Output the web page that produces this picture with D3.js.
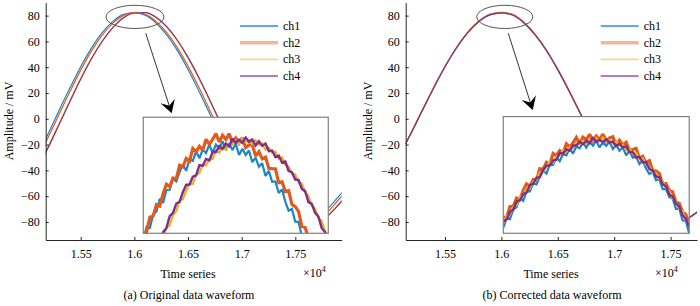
<!DOCTYPE html>
<html>
<head>
<meta charset="utf-8">
<script src="https://d3js.org/d3.v7.min.js"></script>
<style>
	body { margin: 0; background: #fff; }
	svg text { font-family: "Liberation Serif", "Times New Roman", serif; font-size: 12px; fill: #000; }
</style>
</head>
<body>
<div id="chart-area"></div>
<script>

// SVG Size
var width = 700,
	height = 306;

// channels
var channels = ["ch1", "ch2", "ch3", "ch4"];
var lineColors = ["#1a86c8", "#e05a1e", "#edb120", "#7e2f8e"];
var legendColors = ["#5aaee0", "#f2b49c", "#f5d68c", "#b67ac8"];
var legendWidths = [1.8, 3.5, 1.8, 1.8];

// axis ticks
var xTicks = [15500, 16000, 16500, 17000, 17500];
var xTickLabels = ["1.55", "1.6", "1.65", "1.7", "1.75"];
var yTicks = [-80, -60, -40, -20, 0, 20, 40, 60, 80];

// time samples of the full waveform
var sampleT = [15150, 15200, 15300, 15400, 15500, 15600, 15700, 15800, 15900, 16000,
	16100, 16200, 16300, 16400, 16500, 16600, 16700, 16800, 16900, 17000,
	17100, 17200, 17300, 17400, 17500, 17600, 17700, 17800, 17900, 17950];

// (a) original data, mV
var origCh1 = [-19.8, -11.0, 6.7, 24.0, 40.4, 54.8, 66.7, 75.5, 80.9, 82.0, 80.4, 74.5, 65.2, 53.0, 38.2, 21.7, 4.2, -13.5, -30.5, -46.2, -59.8, -70.5, -78.1, -82.0, -82.8, -81.0, -76.8, -70.0, -60.5, -55.8];
var origCh2 = [-22.7, -14.0, 3.7, 21.1, 37.7, 52.5, 64.8, 74.2, 80.2, 82.5, 81.0, 75.7, 67.0, 55.2, 40.8, 24.6, 7.2, -10.5, -27.7, -43.7, -57.7, -68.9, -77.0, -81.5, -83.0, -82.0, -78.5, -72.5, -63.0, -58.3];
var origCh3 = [-29.6, -21.0, -3.4, 14.2, 31.4, 47.0, 60.4, 71.1, 78.5, 82.2, 82.4, 78.5, 71.1, 60.5, 47.0, 31.4, 14.3, -3.5, -21.0, -37.7, -52.6, -65.0, -74.4, -80.4, -82.8, -82.8, -80.2, -75.0, -66.5, -62.0];
var origCh4 = [-30.4, -21.9, -4.3, 13.4, 30.6, 46.3, 59.9, 70.7, 78.3, 82.0, 82.3, 78.9, 71.7, 61.1, 47.8, 32.2, 15.2, -2.6, -20.2, -36.9, -52.0, -64.5, -74.1, -80.3, -82.8, -83.0, -80.5, -75.5, -67.0, -62.5];

// (b) corrected data, mV
var corrCh1 = [-19.8, -11.3, 6.4, 23.7, 40.1, 54.5, 66.4, 75.2, 80.6, 81.9, 80.3, 74.3, 64.9, 52.7, 37.9, 21.4, 3.9, -13.8, -30.8, -46.5, -60.1, -70.8, -78.4, -82.3, -82.3, -80.3, -74.8, -68.3, -60.3, -55.3];
var corrCh2 = [-19.2, -10.7, 7.0, 24.3, 40.7, 55.1, 67.0, 75.8, 81.2, 82.5, 80.9, 74.9, 65.5, 53.3, 38.5, 22.0, 4.5, -13.2, -30.2, -45.9, -59.5, -70.2, -77.8, -81.7, -81.7, -79.7, -74.2, -67.7, -59.7, -54.7];
var corrCh3 = [-19.5, -11.0, 6.7, 24.0, 40.4, 54.8, 66.7, 75.5, 80.9, 82.2, 80.6, 74.6, 65.2, 53.0, 38.2, 21.7, 4.2, -13.5, -30.5, -46.2, -59.8, -70.5, -78.1, -82.0, -82.0, -80.0, -74.5, -68.0, -60.0, -55.0];
var corrCh4 = [-19.6, -11.1, 6.6, 23.9, 40.3, 54.7, 66.6, 75.4, 80.8, 82.1, 80.5, 74.5, 65.1, 52.9, 38.1, 21.6, 4.1, -13.6, -30.6, -46.3, -59.9, -70.6, -78.2, -82.1, -82.1, -80.1, -74.6, -68.1, -60.1, -55.1];

// zoomed peak (inset), 57 consecutive samples each, mV
var zoomOrigCh1 = [76.61, 77.34, 77.28, 77.96, 78.13, 78.79, 78.57, 79.24, 79.25, 79.81, 79.68, 80.17, 80.54, 80.23, 80.83, 80.74, 81.23, 80.88, 81.33, 81.15, 81.58, 81.16, 81.59, 81.40, 81.76, 81.30, 81.66, 81.31, 81.62, 81.05, 81.37, 81.05, 81.28, 80.68, 80.91, 80.44, 80.62, 79.96, 80.23, 79.66, 79.68, 79.08, 79.27, 78.63, 78.17, 78.26, 77.60, 77.59, 76.84, 76.78, 76.12, 75.9, 75.4, 75.0, 74.5, 74.0, 73.5];
var zoomOrigCh2 = [77.00, 77.05, 77.83, 77.90, 78.48, 78.41, 79.05, 79.54, 79.42, 79.86, 79.81, 80.52, 80.44, 80.87, 80.73, 81.38, 81.22, 81.50, 81.30, 81.86, 81.60, 81.85, 82.15, 81.72, 82.07, 81.85, 82.15, 81.67, 81.93, 81.65, 81.94, 81.43, 81.56, 81.58, 80.99, 81.22, 80.85, 80.94, 80.36, 80.34, 80.33, 79.61, 79.66, 79.16, 79.20, 78.49, 78.38, 78.13, 77.36, 77.30, 76.75, 76.58, 75.80, 75.4, 74.9, 74.3, 73.8];
var zoomOrigCh3 = [74.00, 74.67, 74.92, 75.56, 75.78, 76.44, 76.71, 77.29, 77.40, 77.94, 78.14, 78.69, 78.76, 79.20, 79.56, 79.55, 80.03, 80.12, 80.54, 80.50, 80.83, 80.83, 81.26, 81.16, 81.46, 81.32, 81.61, 81.58, 81.80, 81.62, 81.89, 81.69, 81.82, 81.60, 81.82, 81.57, 81.65, 81.32, 81.42, 81.16, 81.22, 80.85, 80.93, 80.54, 80.44, 80.06, 80.05, 79.62, 79.58, 79.11, 78.94, 78.43, 78.28, 77.78, 77.64, 77.10, 76.83];
var zoomOrigCh4 = [74.46, 74.76, 75.42, 75.70, 76.33, 76.50, 77.06, 77.26, 77.89, 78.06, 78.54, 78.62, 79.14, 79.51, 79.52, 79.93, 80.00, 80.52, 80.49, 80.84, 80.77, 81.20, 81.20, 81.51, 81.36, 81.64, 81.50, 81.90, 81.67, 81.84, 81.68, 81.95, 81.73, 81.85, 81.54, 81.76, 81.52, 81.64, 81.25, 81.28, 80.94, 81.02, 80.66, 80.71, 80.22, 80.16, 79.78, 79.76, 79.29, 79.18, 78.61, 78.52, 78.06, 77.87, 77.28, 77.06, 76.52];

var zoomCorrCh1 = [77.29, 77.78, 77.73, 78.22, 78.35, 78.83, 78.67, 79.14, 79.15, 79.56, 79.51, 79.91, 80.23, 80.07, 80.53, 80.52, 80.91, 80.71, 81.08, 81.01, 81.36, 81.10, 81.46, 81.37, 81.67, 81.40, 81.70, 81.50, 81.76, 81.41, 81.68, 81.50, 81.71, 81.34, 81.54, 81.25, 81.42, 81.01, 81.24, 80.89, 80.94, 80.56, 80.73, 80.33, 80.05, 80.16, 79.73, 79.76, 79.27, 79.28, 78.86, 78.79, 78.26, 78.26, 77.66, 77.65, 76.99];
var zoomCorrCh2 = [77.83, 77.80, 78.37, 78.38, 78.81, 78.74, 79.20, 79.54, 79.42, 79.76, 79.73, 80.32, 80.28, 80.65, 80.56, 81.10, 80.99, 81.25, 81.12, 81.60, 81.42, 81.65, 81.93, 81.62, 81.94, 81.81, 82.09, 81.75, 82.00, 81.82, 82.10, 81.74, 81.90, 81.96, 81.54, 81.78, 81.54, 81.68, 81.27, 81.31, 81.37, 80.85, 80.96, 80.62, 80.73, 80.23, 80.20, 80.07, 79.53, 79.56, 79.20, 79.14, 78.60, 78.54, 78.09, 77.97, 77.45];
var zoomCorrCh3 = [77.50, 77.90, 77.97, 78.36, 78.44, 78.88, 78.97, 79.32, 79.30, 79.65, 79.75, 80.13, 80.14, 80.44, 80.68, 80.62, 80.95, 80.98, 81.27, 81.20, 81.42, 81.37, 81.68, 81.56, 81.76, 81.62, 81.81, 81.76, 81.90, 81.72, 81.91, 81.71, 81.79, 81.58, 81.73, 81.51, 81.55, 81.27, 81.33, 81.10, 81.13, 80.81, 80.86, 80.53, 80.44, 80.12, 80.10, 79.75, 79.70, 79.32, 79.18, 78.76, 78.65, 78.24, 78.13, 77.70, 77.47];
var zoomCorrCh4 = [77.59, 77.71, 78.10, 78.23, 78.63, 78.70, 79.01, 79.09, 79.47, 79.54, 79.85, 79.89, 80.25, 80.49, 80.48, 80.75, 80.78, 81.13, 81.09, 81.32, 81.24, 81.52, 81.51, 81.70, 81.58, 81.76, 81.63, 81.90, 81.71, 81.81, 81.68, 81.84, 81.66, 81.72, 81.48, 81.60, 81.41, 81.48, 81.18, 81.17, 80.90, 80.93, 80.65, 80.66, 80.30, 80.22, 79.92, 79.88, 79.52, 79.41, 78.98, 78.89, 78.54, 78.37, 77.93, 77.74, 77.32];

// line widths in the inset (noisy bands)
var zoomWidths = [2.2, 3.2, 2.2, 2.4];

var svg = d3.select("#chart-area")
	.append("svg")
	.attr("width", width)
	.attr("height", height);

var panels = [
	{
		id: "a",
		caption: "(a) Original data waveform",
		series: [origCh1, origCh2, origCh3, origCh4],
		zoom: [zoomOrigCh1, zoomOrigCh2, zoomOrigCh3, zoomOrigCh4],
		left: 45.7, right: 341.7, top: 2.7, bottom: 240,
		xDomain: [15174, 17932],
		ellipse: {t: 16006, v: 79, dt: 270, dv: 9},
		arrow: {t0: 16106, v0: 66.3, t1: 16348, v1: 4.2},
		inset: {t0: 16083, t1: 17807, v0: 1.2, v1: -88.8},
		legendX: 240,
		yLabelX: 12.5,
		titleX: 188,
		expX: 303
	},
	{
		id: "b",
		caption: "(b) Corrected data waveform",
		series: [corrCh1, corrCh2, corrCh3, corrCh4],
		zoom: [zoomCorrCh1, zoomCorrCh2, zoomCorrCh3, zoomCorrCh4],
		left: 405.7, right: 697, top: 3, bottom: 240,
		xDomain: [15152, 17734],
		ellipse: {t: 16030, v: 79, dt: 248, dv: 9},
		arrow: {t0: 16061, v0: 66.3, t1: 16278, v1: 6.8},
		inset: {t0: 16017, t1: 17665, v0: 1.7, v1: -88.8},
		legendX: 600.7,
		yLabelX: 371.5,
		titleX: 551,
		expX: 655
	}
];

panels.forEach(function(p) {

	var x = d3.scaleLinear().domain(p.xDomain).range([p.left, p.right]);
	var y = d3.scaleLinear().domain([-94, 90]).range([p.bottom, 2.7]);

	var g = svg.append("g");

	// clip for the main curves
	g.append("clipPath").attr("id", "clip-" + p.id)
		.append("rect")
		.attr("x", p.left).attr("y", 2.7)
		.attr("width", p.right - p.left).attr("height", p.bottom - 2.7);

	var line = d3.line()
		.x(function(d, i) { return x(sampleT[i]); })
		.y(function(d) { return y(d); })
		.curve(d3.curveMonotoneX);

	g.append("g").attr("clip-path", "url(#clip-" + p.id + ")")
		.selectAll("path")
		.data(p.series)
		.enter()
		.append("path")
		.attr("d", line)
		.attr("fill", "none")
		.attr("stroke", function(d, i) { return lineColors[i]; })
		.attr("stroke-width", 1.2);

	// axes, ticks pointing inward
	var xAxis = d3.axisBottom(x)
		.tickValues(xTicks)
		.tickFormat(function(d, i) { return xTickLabels[i]; })
		.tickSizeInner(-3).tickSizeOuter(0).tickPadding(9.2);
	var yAxis = d3.axisLeft(y)
		.tickValues(yTicks)
		.tickSizeInner(-3).tickSizeOuter(0).tickPadding(6);

	var gx = g.append("g").attr("transform", "translate(0," + p.bottom + ")").call(xAxis);
	var gy = g.append("g").attr("transform", "translate(" + p.left + ",0)").call(yAxis);
	[gx, gy].forEach(function(a) {
		a.selectAll("path, line").attr("stroke", "#262626");
		a.selectAll("text").style("font-size", "12px").attr("fill", "#000")
			.style("font-family", '"Liberation Serif", serif');
	});

	// inset with the zoomed peak
	var ix0 = x(p.inset.t0), ix1 = x(p.inset.t1);
	var iy0 = y(p.inset.v0), iy1 = y(p.inset.v1);
	var zx = d3.scaleLinear().domain([0, 56]).range([ix0, ix1]);
	var zy = d3.scaleLinear().domain([77, 83]).range([iy1, iy0]);

	g.append("rect")
		.attr("x", ix0).attr("y", iy0)
		.attr("width", ix1 - ix0).attr("height", iy1 - iy0)
		.attr("fill", "#fff");

	g.append("clipPath").attr("id", "iclip-" + p.id)
		.append("rect")
		.attr("x", ix0).attr("y", iy0)
		.attr("width", ix1 - ix0).attr("height", iy1 - iy0);

	var zline = d3.line()
		.x(function(d, i) { return zx(i); })
		.y(function(d) { return zy(d); });

	g.append("g").attr("clip-path", "url(#iclip-" + p.id + ")")
		.selectAll("path")
		.data(p.zoom)
		.enter()
		.append("path")
		.attr("d", zline)
		.attr("fill", "none")
		.attr("stroke", function(d, i) { return lineColors[i]; })
		.attr("stroke-width", function(d, i) { return zoomWidths[i]; })
		.attr("stroke-linejoin", "miter")
		.attr("stroke-miterlimit", 2);

	g.append("rect")
		.attr("x", ix0).attr("y", iy0)
		.attr("width", ix1 - ix0).attr("height", iy1 - iy0)
		.attr("fill", "none")
		.attr("stroke", "#808080")
		.attr("stroke-width", 1.2);

	// ellipse around the peak
	g.append("ellipse")
		.attr("cx", x(p.ellipse.t)).attr("cy", y(p.ellipse.v))
		.attr("rx", x(p.ellipse.t + p.ellipse.dt) - x(p.ellipse.t))
		.attr("ry", y(p.ellipse.v - p.ellipse.dv) - y(p.ellipse.v))
		.attr("fill", "none")
		.attr("stroke", "#555")
		.attr("stroke-width", 1);

	// arrow
	var ax0 = x(p.arrow.t0), ay0 = y(p.arrow.v0), ax1 = x(p.arrow.t1), ay1 = y(p.arrow.v1);
	var len = Math.hypot(ax1 - ax0, ay1 - ay0);
	var ux = (ax1 - ax0) / len, uy = (ay1 - ay0) / len;
	var headLen = 13, headHalf = 7.5, notch = 8;
	g.append("line")
		.attr("x1", ax0).attr("y1", ay0)
		.attr("x2", ax1 - ux * notch).attr("y2", ay1 - uy * notch)
		.attr("stroke", "#333").attr("stroke-width", 1);
	var bx = ax1 - ux * headLen, by = ay1 - uy * headLen;
	g.append("path")
		.attr("d", "M" + ax1 + "," + ay1 +
			"L" + (bx - uy * headHalf) + "," + (by + ux * headHalf) +
			"L" + (ax1 - ux * notch) + "," + (ay1 - uy * notch) +
			"L" + (bx + uy * headHalf) + "," + (by - ux * headHalf) + "Z")
		.attr("fill", "#000");

	// legend
	var lg = g.append("g");
	channels.forEach(function(c, i) {
		var ly = 26 + i * 16.67;
		lg.append("line")
			.attr("x1", p.legendX).attr("x2", p.legendX + 38)
			.attr("y1", ly).attr("y2", ly)
			.attr("stroke", legendColors[i])
			.attr("stroke-width", legendWidths[i]);
		lg.append("text")
			.attr("x", p.legendX + 43).attr("y", ly + 4)
			.text(c);
	});

	// labels
	g.append("text")
		.attr("transform", "translate(" + p.yLabelX + ",121) rotate(-90)")
		.attr("text-anchor", "middle")
		.text("Amplitude / mV");

	g.append("text")
		.attr("x", p.titleX).attr("y", 278)
		.attr("text-anchor", "middle")
		.text("Time series");

	var ex = g.append("text").attr("x", p.expX).attr("y", 276.7);
	ex.append("tspan").text("×10");
	ex.append("tspan").attr("dy", -5).style("font-size", "8px").text("4");

	g.append("text")
		.attr("x", p.titleX + 1).attr("y", 299)
		.attr("text-anchor", "middle")
		.text(p.caption);
});

</script>
</body>
</html>
